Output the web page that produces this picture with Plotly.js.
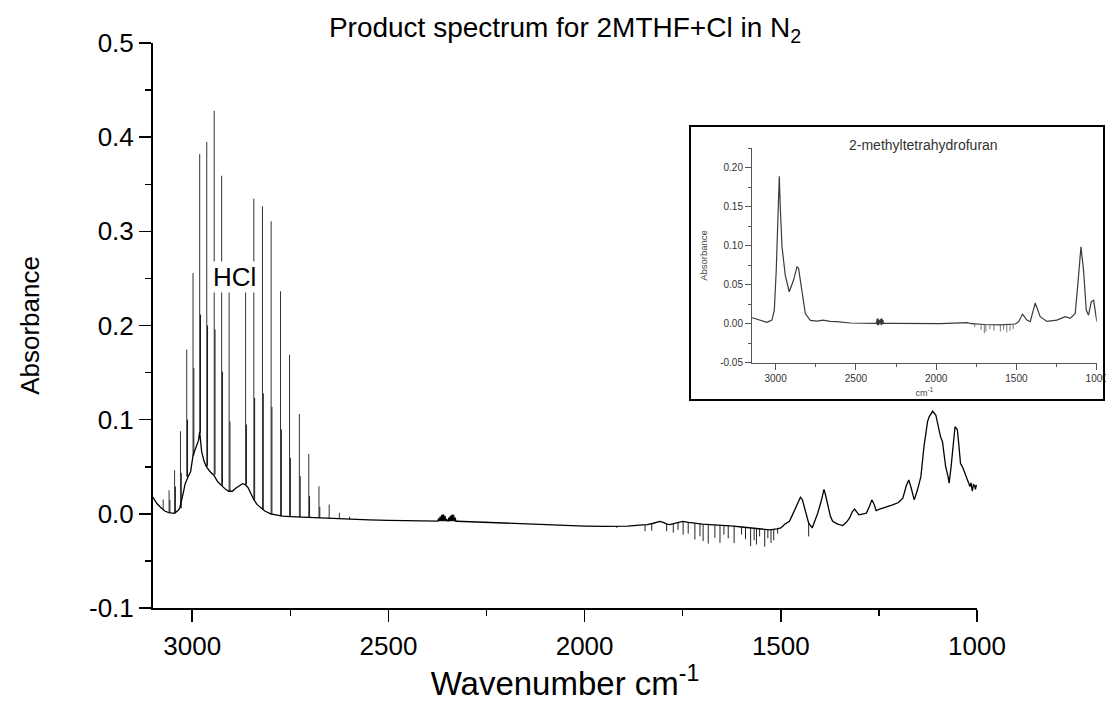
<!DOCTYPE html>
<html>
<head>
<meta charset="utf-8">
<script src="https://cdn.plot.ly/plotly-3.0.1.min.js"></script>
<style>html,body{margin:0;padding:0;background:#fff;}#chart{width:1106px;height:702px;}</style>
</head>
<body>
<div id="chart"></div>
<script>
// ---------------- Main spectrum (product, 2MTHF + Cl in N2) ----------------
const mainWn = [3100,3090,3081,3070,3060,3045,3035,3032,3025,3018,3010,3004,2998,2990,2984,2981,2976,2970,2964,2955,2945,2935,2925,2915,2907,2898,2890,2880,2872,2865,2858,2850,2843,2835,2825,2815,2800,2790,2770,2750,2725,2700,2675,2650,2625,2600,2550,2500,2450,2400,2380,
  2374,2372,2370,2368,2366,2364,2362,2360,2358,2356,2354,2352,2348,2346,2344,2342,2340,2338,2336,2334,2332,2330,2328,2326,
  2320,2300,2250,2200,2150,2100,2050,2000,1950,1918,1890,1860,1840,1825,1815,1808,1800,1790,1783,1770,1750,1735,1720,1700,1680,1664,1640,1620,1600,1579,1550,1528,1510,1500,1490,1478,1468,1461,1455,1450,1445,1440,1434,1429,1420,1413,1406,1398,1393,1390,1386,1380,1374,1368,1355,1342,1333,1325,1318,1312,1306,1301,1290,1282,1274,1268,1262,1257,1248,1240,1228,1215,1200,1189,1180,1174,1168,1160,1152,1143,1135,1126,1122,1117,1113,1105,1100,1093,1088,1080,1074,1071,1066,1062,1058,1056,1053,1050,1046,1042,1036,1029,1024,1018,1015,1012,1009,1006,1004,1002,1000];
const mainAbs = [0.0175,0.011,0.007,0.003,0.0014,0.0005,0.004,0.006,0.018,0.032,0.040,0.045,0.062,0.072,0.078,0.087,0.066,0.056,0.050,0.045,0.041,0.034,0.030,0.026,0.024,0.024,0.027,0.030,0.032,0.031,0.028,0.021,0.015,0.010,0.006,0.003,0.000,-0.001,-0.0025,-0.003,-0.0035,-0.004,-0.0045,-0.005,-0.0055,-0.006,-0.0065,-0.007,-0.0072,-0.0076,-0.0078,
  -0.0078,-0.005,-0.0078,-0.003,-0.0078,-0.001,-0.0078,-0.0005,-0.0078,-0.002,-0.0078,-0.006,-0.0079,-0.004,-0.0079,-0.002,-0.0079,-0.0008,-0.0079,-0.001,-0.0079,-0.004,-0.0079,-0.0079,
  -0.008,-0.0085,-0.009,-0.0095,-0.0105,-0.0115,-0.0125,-0.013,-0.0134,-0.0134,-0.013,-0.012,-0.0115,-0.010,-0.0085,-0.008,-0.009,-0.011,-0.0115,-0.010,-0.008,-0.009,-0.010,-0.011,-0.0115,-0.0117,-0.0125,-0.013,-0.014,-0.015,-0.016,-0.017,-0.016,-0.015,-0.011,-0.008,0.001,0.0078,0.014,0.0177,0.015,0.0078,-0.002,-0.0099,-0.015,-0.008,0.0007,0.012,0.022,0.026,0.020,0.0078,-0.002,-0.008,-0.011,-0.0124,-0.009,-0.0046,0.002,0.005,0.002,-0.001,0.000,0.0007,0.008,0.0148,0.010,0.0035,0.005,0.006,0.008,0.0095,0.012,0.0166,0.030,0.036,0.028,0.0148,0.025,0.0395,0.072,0.098,0.103,0.107,0.109,0.105,0.096,0.082,0.0766,0.0505,0.040,0.0325,0.050,0.071,0.088,0.0925,0.091,0.089,0.072,0.0535,0.049,0.0417,0.036,0.029,0.033,0.024,0.031,0.030,0.026,0.030,0.0295];

// HCl rotational lines (strong lines)
const hclWn   = [3074,3059,3045,3030,3014,2998,2981,2963,2944,2925,2906,2864,2843,2821,2799,2775,2752,2727,2703,2677,2651,2625,2599];
const hclBase = [0.0053,0.0014,0.0007,0.006,0.0395,0.062,0.086,0.0505,0.0417,0.030,0.024,0.031,0.015,0.0046,-0.0007,-0.0025,-0.003,-0.0035,-0.004,-0.0045,-0.005,-0.0055,-0.006];
const hclTop  = [0.0152,0.025,0.0463,0.0877,0.1744,0.2558,0.382,0.395,0.428,0.359,0.24,0.24,0.3347,0.3266,0.3106,0.2363,0.169,0.106,0.0637,0.0293,0.0099,0.001,-0.003];
// weaker companion lines
const hcl2Wn   = [3057,3043,3028,3012,2996,2979,2961,2942,2923,2904,2862,2841,2819,2797,2773,2750,2725,2701,2675];
const hcl2Base = [0.0014,0.0007,0.006,0.0395,0.062,0.086,0.0505,0.0417,0.030,0.024,0.031,0.015,0.0046,-0.0007,-0.0025,-0.003,-0.0035,-0.004,-0.0045];
const hcl2Top  = [0.0148,0.029,0.0435,0.100,0.155,0.2116,0.200,0.1957,0.151,0.098,0.0948,0.123,0.128,0.1136,0.0895,0.0594,0.040,0.0187,0.0074];

// downward noise spikes
const spikeWn     = [1918,1846,1829,1791,1774,1762,1749,1736,1719,1706,1698,1685,1668,1655,1645,1634,1619,1600,1590,1577,1568,1562,1554,1541,1533,1525,1518,1508,1429];
const spikeBase   = [-0.0134,-0.012,-0.0105,-0.011,-0.0105,-0.009,-0.008,-0.009,-0.010,-0.0105,-0.011,-0.0115,-0.0117,-0.012,-0.012,-0.0127,-0.013,-0.014,-0.0145,-0.015,-0.0155,-0.0155,-0.016,-0.0165,-0.017,-0.017,-0.0165,-0.016,-0.0099];
const spikeBottom = [-0.0149,-0.0184,-0.018,-0.0184,-0.020,-0.017,-0.022,-0.021,-0.0273,-0.0238,-0.029,-0.0315,-0.0255,-0.0308,-0.022,-0.026,-0.031,-0.022,-0.027,-0.0343,-0.028,-0.0326,-0.024,-0.035,-0.026,-0.031,-0.028,-0.021,-0.024];

// ---------------- Inset: 2-methyltetrahydrofuran reference ----------------
const insetWn = [3147,3095,3054,3023,3008,2996,2988,2984,2977,2971,2960,2940,2915,2888,2867,2857,2836,2815,2784,2742,2705,2660,2618,2535,2379,
  2372,2368,2365,2362,2358,2355,2350,2345,2342,2339,2336,2332,2328,
  2250,2182,2100,1975,1808,1780,1700,1600,1507,1486,1462,1435,1414,1383,1352,1310,1248,1196,1165,1134,1119,1098,1082,1065,1051,1034,1019,1009,999];
const insetAbs = [0.0077,0.0038,0.0017,0.0047,0.0175,0.0687,0.133,0.137,0.189,0.150,0.0986,0.0623,0.041,0.056,0.073,0.071,0.039,0.013,0.0043,0.0034,0.0047,0.003,0.0026,0.0009,0.0004,
  0.0004,0.006,-0.002,0.007,-0.002,0.005,0.0,0.006,-0.002,0.007,-0.001,0.005,0.0004,
  0.0004,0.0004,0.0002,0.0,0.0013,0.0,-0.001,-0.0015,-0.0004,0.0026,0.0124,0.0047,0.0026,0.0265,0.009,0.003,0.0047,0.009,0.0068,0.0132,0.047,0.0986,0.0687,0.0175,0.011,0.028,0.030,0.0175,0.0026];
const insetSpikeWn     = [1760,1720,1700,1690,1665,1640,1600,1580,1560,1540,1520];
const insetSpikeBase   = [0.0,-0.001,-0.001,-0.001,-0.001,-0.001,-0.0015,-0.0015,-0.001,-0.001,-0.0005];
const insetSpikeBottom = [-0.004,-0.008,-0.012,-0.010,-0.007,-0.009,-0.010,-0.008,-0.011,-0.009,-0.007];

// tick labels
const mainYTicks = [-0.1,0.0,0.1,0.2,0.3,0.4,0.5];
const mainYText  = ['-0.1','0.0','0.1','0.2','0.3','0.4','0.5'];
const mainXTicks = [3000,2500,2000,1500,1000];
const insetYTicks = [-0.05,0.0,0.05,0.10,0.15,0.20];
const insetYText  = ['-0.05','0.00','0.05','0.10','0.15','0.20'];

function segs(wn, a, b) {
  const x = [], y = [];
  for (let i = 0; i < wn.length; i++) { x.push(wn[i], wn[i], null); y.push(a[i], b[i], null); }
  return {x, y};
}
const h1 = segs(hclWn, hclBase, hclTop);
const h2 = segs(hcl2Wn, hcl2Base, hcl2Top);
const sp = segs(spikeWn, spikeBase, spikeBottom);
const isp = segs(insetSpikeWn, insetSpikeBase, insetSpikeBottom);

const FONT = 'Liberation Sans, Arial, Helvetica, sans-serif';

const traces = [
  {x: h2.x, y: h2.y, type: 'scatter', mode: 'lines', line: {color: '#111', width: 1}, hoverinfo: 'skip', showlegend: false},
  {x: h1.x, y: h1.y, type: 'scatter', mode: 'lines', line: {color: '#333', width: 1}, hoverinfo: 'skip', showlegend: false},
  {x: sp.x, y: sp.y, type: 'scatter', mode: 'lines', line: {color: '#222', width: 1}, hoverinfo: 'skip', showlegend: false},
  {x: mainWn, y: mainAbs, type: 'scatter', mode: 'lines', line: {color: '#000', width: 1.3}, showlegend: false},
  {x: insetWn, y: insetAbs, type: 'scatter', mode: 'lines', line: {color: '#3a3a3a', width: 1.2}, xaxis: 'x2', yaxis: 'y2', showlegend: false},
  {x: isp.x, y: isp.y, type: 'scatter', mode: 'lines', line: {color: '#555', width: 0.8}, xaxis: 'x2', yaxis: 'y2', hoverinfo: 'skip', showlegend: false}
];

const layout = {
  width: 1106, height: 702,
  margin: {l: 153, r: 0, t: 43, b: 94},
  paper_bgcolor: '#ffffff',
  plot_bgcolor: 'rgba(0,0,0,0)',
  font: {family: FONT, color: '#000'},
  showlegend: false,
  title: {
    text: 'Product spectrum for 2MTHF+Cl in N<sub>2</sub>',
    font: {size: 28, family: FONT, color: '#000'},
    xref: 'container', x: 565 / 1106, xanchor: 'center',
    yref: 'container', y: 1 - 27 / 702, yanchor: 'middle'
  },
  xaxis: {
    domain: [0, 824 / 953],
    range: [3100, 1000],
    tickmode: 'array', tickvals: mainXTicks,
    ticks: 'outside', ticklen: 12, tickwidth: 1.5, tickcolor: '#000',
    minor: {dtick: 250, tick0: 1000, ticks: 'outside', ticklen: 6, tickwidth: 1.5, tickcolor: '#000', showgrid: false},
    showline: true, linecolor: '#000', linewidth: 2,
    showgrid: false, zeroline: false,
    tickfont: {size: 26, family: FONT, color: '#000'},
    ticklabelstandoff: 2,
    title: {text: 'Wavenumber cm<sup>-1</sup>', font: {size: 33, family: FONT, color: '#000'}, standoff: 9},
    anchor: 'y'
  },
  yaxis: {
    domain: [0, 1],
    range: [-0.1, 0.5],
    tickmode: 'array', tickvals: mainYTicks, ticktext: mainYText,
    ticks: 'outside', ticklen: 12, tickwidth: 1.5, tickcolor: '#000',
    minor: {dtick: 0.05, tick0: 0, ticks: 'outside', ticklen: 6, tickwidth: 1.5, tickcolor: '#000', showgrid: false},
    showline: true, linecolor: '#000', linewidth: 2,
    showgrid: false, zeroline: false,
    tickfont: {size: 26, family: FONT, color: '#000'},
    title: {text: 'Absorbance', font: {size: 26, family: FONT, color: '#000'}, standoff: 42},
    anchor: 'x'
  },
  xaxis2: {
    domain: [(752 - 153) / 953, (1096.7 - 153) / 953],
    range: [3147, 1000],
    tickmode: 'array', tickvals: mainXTicks,
    ticks: 'outside', ticklen: 6, tickwidth: 1, tickcolor: '#555',
    minor: {dtick: 250, tick0: 1000, ticks: 'outside', ticklen: 3, tickwidth: 1, tickcolor: '#555', showgrid: false},
    showline: true, linecolor: '#555', linewidth: 1,
    showgrid: false, zeroline: false,
    ticklabeloverflow: 'allow',
    tickfont: {size: 10, family: FONT, color: '#333'},
    ticklabelstandoff: 0,
    title: {text: 'cm<sup>-1</sup>', font: {size: 9, family: FONT, color: '#444'}, standoff: 6},
    anchor: 'y2'
  },
  yaxis2: {
    domain: [(608 - 362.7) / 565, (608 - 148.3) / 565],
    range: [-0.05, 0.225],
    tickmode: 'array', tickvals: insetYTicks, ticktext: insetYText,
    ticks: 'outside', ticklen: 6, tickwidth: 1, tickcolor: '#555',
    minor: {dtick: 0.025, tick0: 0, ticks: 'outside', ticklen: 3, tickwidth: 1, tickcolor: '#555', showgrid: false},
    showline: true, linecolor: '#555', linewidth: 1,
    showgrid: false, zeroline: false,
    tickfont: {size: 10, family: FONT, color: '#333'},
    ticklabelstandoff: 0,
    title: {text: 'Absorbance', font: {size: 9.5, family: FONT, color: '#444'}, standoff: 10},
    anchor: 'x2'
  },
  shapes: [{
    type: 'rect', xref: 'paper', yref: 'paper',
    x0: (690 - 153) / 953, x1: (1104 - 153) / 953,
    y0: (608 - 400) / 565, y1: (608 - 126) / 565,
    line: {color: '#000', width: 2}, fillcolor: 'rgba(0,0,0,0)', layer: 'above'
  }],
  annotations: [
    {text: 'HCl', x: 2893, y: 0.2514, xref: 'x', yref: 'y', showarrow: false,
     font: {size: 26, family: FONT, color: '#000'}, bgcolor: '#ffffff', borderpad: 0},
    {text: '2-methyltetrahydrofuran', xref: 'paper', yref: 'paper',
     x: (923 - 153) / 953, y: (608 - 145) / 565, xanchor: 'center', yanchor: 'middle',
     showarrow: false, font: {size: 14, family: FONT, color: '#333'}}
  ]
};

Plotly.newPlot('chart', traces, layout, {displayModeBar: false, staticPlot: true});
</script>
</body>
</html>
